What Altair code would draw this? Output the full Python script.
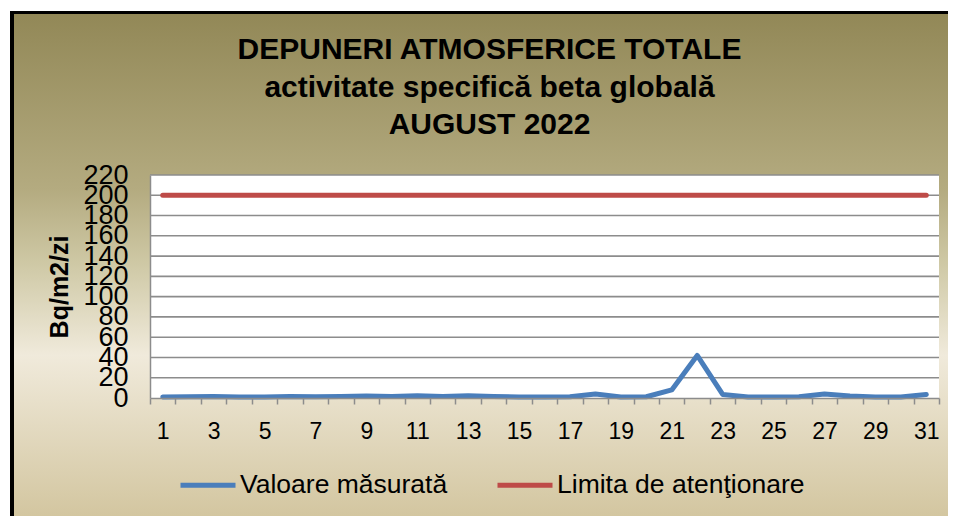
import altair as alt
import pandas as pd

days = list(range(1, 32))
measured = [1, 1.2, 1.5, 1, 1, 1.5, 1.2, 1.5, 2, 1.5, 2.2, 1.5, 2.2, 1.5, 1, 1, 1.2,
            4, 1, 1.2, 8, 42, 3.5, 1, 1, 1.2, 4, 2, 1, 1, 3.5]
limit = [200] * 31
series_names = ["Valoare măsurată", "Limita de atenţionare"]
series_colors = ["#4a7ebb", "#be4b48"]
grid_values = list(range(20, 221, 20))
y_ticks = list(range(0, 221, 20))
title_lines = ["DEPUNERI ATMOSFERICE TOTALE", "activitate specifică beta globală", "AUGUST 2022"]

rows = []
for d, v in zip(days, measured):
    rows.append({"zi": d, "valoare": v, "serie": series_names[0]})
for d, v in zip(days, limit):
    rows.append({"zi": d, "valoare": v, "serie": series_names[1]})
df = pd.DataFrame(rows)

W, H = 789, 223
PAD = {"left": 142, "top": 167, "right": 9, "bottom": 118}
RIGHT = W + PAD["right"]
BOTTOM = H + PAD["bottom"]
one = alt.Data(values=[{}])
FONT = "Liberation Sans"

y_axis = alt.Axis(
    title="Bq/m2/zi", values=y_ticks, ticks=False, grid=False, labelFontSize=27,
    labelFont=FONT, labelColor="black", labelPadding=22, labelOverlap=False,
    labelBound=False, labelFlush=False,
    domainColor="#8c8c8c", domainWidth=1.5, titleFont=FONT, titleFontSize=25,
    titleFontWeight="bold", titleColor="black", titlePadding=10, zindex=1,
)
y_scale = alt.Scale(domain=[0, 220], nice=False)

frame = alt.Chart(one).mark_rect(color="black").encode(
    x=alt.value(-140), x2=alt.value(RIGHT), y=alt.value(-164), y2=alt.value(BOTTOM)
)
grad = alt.Chart(one).mark_rect(
    color=alt.LinearGradient(
        gradient="linear", x1=0, x2=0, y1=0, y2=1,
        stops=[
            alt.GradientStop(offset=0, color="#928857"),
            alt.GradientStop(offset=0.35, color="#b4ab80"),
            alt.GradientStop(offset=0.5, color="#cfc9a6"),
            alt.GradientStop(offset=0.68, color="#f0eadb"),
            alt.GradientStop(offset=1, color="#d3c6a0"),
        ],
    )
).encode(x=alt.value(-136), x2=alt.value(RIGHT), y=alt.value(-161), y2=alt.value(BOTTOM))
plotbg = alt.Chart(one).mark_rect(color="white").encode(
    x=alt.value(0), x2=alt.value(W), y=alt.value(0), y2=alt.value(H)
)
grid = alt.Chart(pd.DataFrame({"v": grid_values})).mark_rule(
    color="#8c8c8c", strokeWidth=1.6
).encode(y=alt.Y("v:Q", scale=y_scale, axis=y_axis))

title = alt.Chart(one).mark_text(
    text=title_lines, font=FONT, fontSize=30, fontWeight="bold", color="black",
    lineHeight=37.5, align="center", baseline="top",
).encode(x=alt.value(339.5), y=alt.value(-140))

lines = alt.Chart(df).mark_line(strokeWidth=5, strokeCap="round", strokeJoin="round").encode(
    x=alt.X(
        "zi:O",
        bandPosition=0.5,
        scale=alt.Scale(type="band", paddingInner=0, paddingOuter=0),
        axis=alt.Axis(
            title=None, labelAngle=0, tickBand="extent", tickSize=6, tickColor="#8c8c8c",
            tickWidth=1.5, domainColor="#8c8c8c", domainWidth=1.5, labelFontSize=23,
            labelFont=FONT, labelColor="black", labelPadding=16, labelOverlap=False,
            labelExpr="datum.value % 2 == 1 ? datum.label : ''", grid=False, zindex=1,
        ),
    ),
    y=alt.Y("valoare:Q", scale=y_scale, axis=y_axis),
    color=alt.Color(
        "serie:N",
        scale=alt.Scale(domain=series_names, range=series_colors),
        legend=alt.Legend(
            title=None, orient="none", legendX=28, legendY=280, direction="horizontal",
            symbolType="stroke", symbolSize=3025, symbolStrokeWidth=5, labelFontSize=26.5,
            labelFont=FONT, labelColor="black", labelOffset=2, columnPadding=39,
            labelLimit=500, zindex=1,
        ),
    ),
)

chart = alt.layer(frame, grad, plotbg, grid, title, lines).properties(
    width=W,
    height=H,
    autosize=alt.AutoSizeParams(type="none"),
    padding=PAD,
).configure_view(stroke=None)

chart.save("out.html", embed_options={"renderer": "svg", "actions": False})
